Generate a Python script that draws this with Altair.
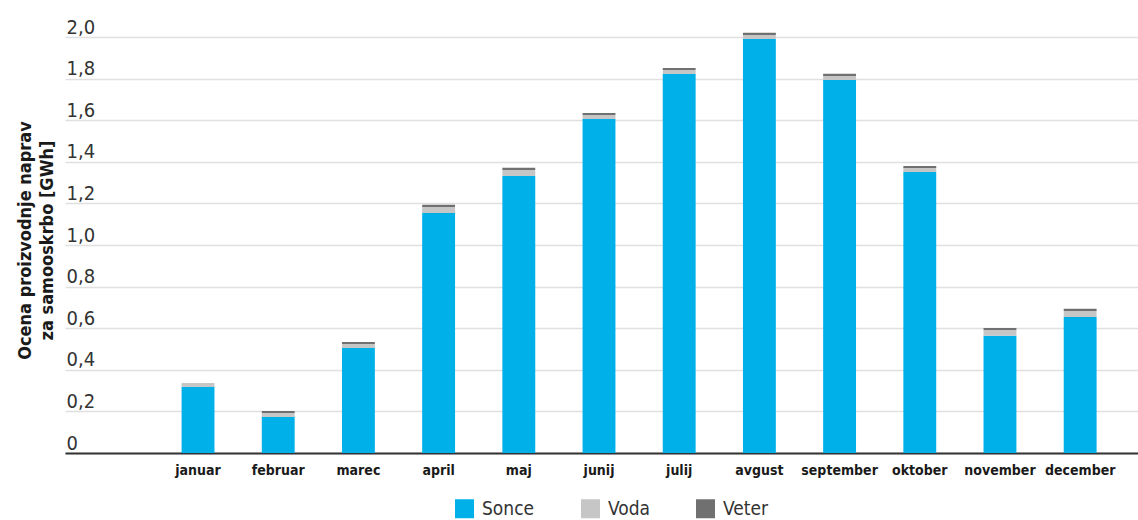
import altair as alt
import pandas as pd

months = ["januar", "februar", "marec", "april", "maj", "junij",
          "julij", "avgust", "september", "oktober", "november", "december"]
sonce = [0.317, 0.173, 0.505, 1.154, 1.332, 1.606, 1.822, 1.990, 1.793, 1.351, 0.564, 0.654]
voda = [0.020, 0.019, 0.019, 0.029, 0.029, 0.019, 0.019, 0.020, 0.020, 0.019, 0.027, 0.029]
veter = [0.000, 0.010, 0.010, 0.010, 0.010, 0.010, 0.010, 0.010, 0.010, 0.010, 0.010, 0.010]
series = ["Sonce", "Voda", "Veter"]
colors = ["#00b0e9", "#c6c6c6", "#707070"]
y_ticks = [0, 0.2, 0.4, 0.6, 0.8, 1.0, 1.2, 1.4, 1.6, 1.8, 2.0]

rows = []
for i, m in enumerate(months):
    for k, (name, vals) in enumerate(zip(series, [sonce, voda, veter])):
        rows.append({"mesec": m, "vir": name, "vrednost": vals[i], "red": k})
df = pd.DataFrame(rows)

FONT = "DejaVu Sans Condensed, sans-serif"

chart = alt.Chart(df).mark_bar(strokeWidth=0).encode(
    x=alt.X("mesec:N", sort=months, title=None,
            scale=alt.Scale(paddingInner=0.59, paddingOuter=0.985, align=0.738),
            axis=alt.Axis(labelAngle=0, labelFont=FONT, labelFontWeight="bold",
                          labelFontSize=14, labelColor="#1a1a1a", labelPadding=10,
                          ticks=False, domain=True, domainColor="#333333",
                          domainWidth=2, grid=False)),
    y=alt.Y("vrednost:Q", stack="zero",
            scale=alt.Scale(domain=[0, 2.0], nice=False),
            title=["Ocena proizvodnje naprav", "za samooskrbo [GWh]"],
            axis=alt.Axis(values=y_ticks,
                          labelExpr="datum.value == 0 ? '0' : replace(format(datum.value, '.1f'), '.', ',')",
                          labelAlign="left", labelBaseline="alphabetic", labelOffset=-4,
                          labelPadding=-1, tickSize=0, ticks=False, domain=False,
                          labelFont=FONT, labelFontSize=20, labelColor="#333333",
                          grid=True, gridColor="#e0e0e0", gridWidth=1.5,
                          titleFont=FONT, titleFontSize=18, titleFontWeight="bold",
                          titleColor="#1a1a1a", titleX=-35, titleY=203,
                          titleAlign="center", titleBaseline="alphabetic",
                          titleLineHeight=22, titleAngle=270)),
    color=alt.Color("vir:N", scale=alt.Scale(domain=series, range=colors),
                    legend=alt.Legend(title=None, orient="none", direction="horizontal",
                                      legendX=390, legendY=462, symbolType="square",
                                      symbolSize=361, symbolStrokeWidth=0,
                                      labelFont=FONT, labelFontSize=19,
                                      labelColor="#333333", labelOffset=8,
                                      columnPadding=46)),
    order=alt.Order("red:Q", sort="ascending"),
).properties(
    width=1073, height=416,
    autosize=alt.AutoSizeParams(type="none"),
    padding={"left": 65, "top": 37, "right": 0, "bottom": 67},
    background="white",
).configure_view(stroke=None)

chart.save("out.html", embed_options={"renderer": "svg", "actions": False})
